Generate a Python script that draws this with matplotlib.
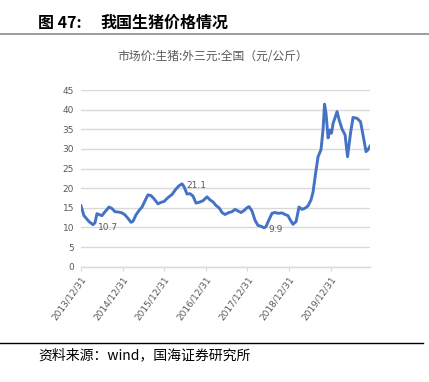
import matplotlib
matplotlib.use("Agg")
import matplotlib.pyplot as plt
from matplotlib.lines import Line2D
import pandas as pd

plt.rcParams['font.family'] = ['Noto Sans CJK SC', 'DejaVu Sans']

title_num = "图 47:"
title_txt = "我国生猪价格情况"
subtitle = "市场价:生猪:外三元:全国（元/公斤）"
source = "资料来源：wind，国海证券研究所"

dates = [
    "2013-12-31", "2014-01-26", "2014-02-13", "2014-03-11", "2014-04-15", "2014-05-03",
    "2014-05-20", "2014-06-07", "2014-07-03", "2014-07-30", "2014-09-03", "2014-09-29",
    "2014-10-26", "2014-11-30", "2014-12-26", "2015-01-21", "2015-02-17", "2015-03-15",
    "2015-04-02", "2015-04-28", "2015-05-24", "2015-06-20", "2015-07-16", "2015-08-11",
    "2015-09-07", "2015-10-03", "2015-11-07", "2015-12-03", "2015-12-30", "2016-02-03",
    "2016-03-09", "2016-04-13", "2016-05-09", "2016-06-05", "2016-06-22", "2016-07-19",
    "2016-08-14", "2016-09-09", "2016-10-06", "2016-11-01", "2016-12-06", "2017-01-10",
    "2017-02-06", "2017-03-04", "2017-03-30", "2017-04-26", "2017-05-22", "2017-06-17",
    "2017-07-22", "2017-08-18", "2017-09-13", "2017-10-09", "2017-11-05", "2017-12-01",
    "2017-12-27", "2018-01-14", "2018-02-09", "2018-03-08", "2018-04-03", "2018-04-29",
    "2018-05-26", "2018-06-12", "2018-07-09", "2018-08-04", "2018-08-30", "2018-09-26",
    "2018-10-31", "2018-11-26", "2018-12-22", "2019-01-09", "2019-02-04", "2019-03-03",
    "2019-03-29", "2019-04-24", "2019-05-21", "2019-06-16", "2019-07-12", "2019-07-30",
    "2019-08-25", "2019-09-12", "2019-10-08", "2019-10-26", "2019-11-08", "2019-11-21",
    "2019-12-09", "2019-12-26", "2020-01-08", "2020-01-22", "2020-02-26", "2020-03-14",
    "2020-04-10", "2020-05-06", "2020-05-28", "2020-06-23", "2020-07-15", "2020-08-19",
    "2020-09-19", "2020-10-11", "2020-11-06", "2020-11-24", "2020-12-11",
]
prices = [
    15.5, 13.0, 12.4, 11.5, 10.7, 11.2,
    13.5, 13.3, 13.0, 14.0, 15.2, 14.8,
    14.0, 13.9, 13.7, 13.2, 12.3, 11.3,
    11.6, 13.2, 14.3, 15.2, 16.8, 18.3,
    18.1, 17.3, 16.0, 16.4, 16.6, 17.6,
    18.4, 19.8, 20.6, 21.1, 20.4, 18.5,
    18.6, 18.0, 16.2, 16.4, 16.8, 17.8,
    17.0, 16.5, 15.6, 15.0, 13.8, 13.3,
    13.8, 14.0, 14.6, 14.2, 13.8, 14.3,
    15.0, 15.3, 14.2, 11.8, 10.5, 10.3,
    9.9, 10.2, 12.0, 13.6, 13.8, 13.6,
    13.7, 13.3, 13.0, 12.0, 10.8, 11.5,
    15.2, 14.6, 14.9, 15.5, 17.0, 19.0,
    24.5, 28.0, 29.8, 35.0, 41.4, 39.0,
    32.8, 34.8, 34.0, 36.5, 39.5, 37.5,
    35.0, 33.6, 28.0, 34.0, 38.0, 37.8,
    36.9, 33.5, 29.3, 29.8, 30.7,
]
tick_dates = ["2013-12-31", "2014-12-31", "2015-12-31", "2016-12-31",
              "2017-12-31", "2018-12-31", "2019-12-31"]
tick_labels = ["2013/12/31", "2014/12/31", "2015/12/31", "2016/12/31",
               "2017/12/31", "2018/12/31", "2019/12/31"]
y_ticks = [0, 5, 10, 15, 20, 25, 30, 35, 40, 45]
labels = [("10.7", "2014-04-15", 10.7, 11, -2),
          ("21.1", "2016-06-05", 21.1, 10, -1),
          ("9.9", "2018-05-26", 9.9, 8, -1)]

W, H = 429, 382
fig = plt.figure(figsize=(W / 100, H / 100), dpi=100)
fig.patch.set_facecolor("white")

ax = fig.add_axes([81 / W, 1 - 266.7 / H, (370 - 81) / W, (266.7 - 90) / H])
x = pd.to_datetime(dates)
ax.plot(x, prices, color="#4472C4", lw=2.1, solid_joinstyle="round")

ax.set_ylim(0, 45)
ax.set_xlim(pd.Timestamp(dates[0]), pd.Timestamp(dates[-1]))
ax.set_yticks(y_ticks)
ax.set_yticklabels([str(v) for v in y_ticks])
ax.set_xticks(pd.to_datetime(tick_dates))
ax.set_xticklabels(tick_labels, rotation=54, ha="right", va="top",
                   rotation_mode="anchor")
ax.grid(axis="y", color="#d9d9d9", lw=1.0)
ax.set_axisbelow(True)
for s in ["top", "right", "left"]:
    ax.spines[s].set_visible(False)
ax.spines["bottom"].set_color("#d9d9d9")
ax.spines["bottom"].set_linewidth(1.0)
ax.tick_params(axis="y", length=0, pad=5, labelsize=6.5, labelcolor="#595959")
ax.tick_params(axis="x", length=3, width=0.8, color="#d9d9d9", pad=3,
               labelsize=6.5, labelcolor="#595959")
for lab in ax.get_yticklabels() + ax.get_xticklabels():
    lab.set_family(["Liberation Sans Narrow", "DejaVu Sans"])

for txt, d, v, dx, dy in labels:
    ax.annotate(txt, xy=(pd.Timestamp(d), v), xytext=(dx, dy),
                textcoords="offset points", ha="center", va="center",
                fontsize=6.5, color="#595959",
                family=["Liberation Sans Narrow", "DejaVu Sans"])

fig.text(38 / W, 1 - 23 / H, title_num, fontsize=11.5, fontweight="bold",
         ha="left", va="center", color="#000000")
fig.text(100 / W, 1 - 23 / H, title_txt, fontsize=11.5, fontweight="bold",
         ha="left", va="center", color="#000000")
fig.add_artist(Line2D([0, 1], [1 - 34 / H, 1 - 34 / H], color="#8c8c8c", lw=1.2,
                      transform=fig.transFigure))
fig.text(213 / W, 1 - 57 / H, subtitle, fontsize=8.5, ha="center", va="center",
         color="#595959")
fig.add_artist(Line2D([0, 423 / W], [1 - 343 / H, 1 - 343 / H], color="#000000",
                      lw=1.0, transform=fig.transFigure))
fig.text(38 / W, 1 - 355 / H, source, fontsize=10, ha="left", va="center",
         color="#000000")

fig.savefig("out.png", dpi=100)
